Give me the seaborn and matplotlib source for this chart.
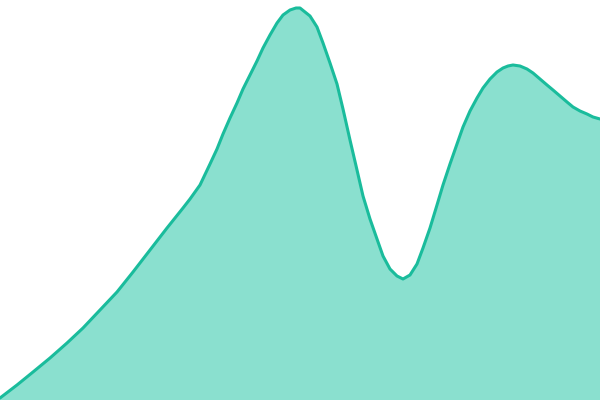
import matplotlib
matplotlib.use("Agg")
import matplotlib.pyplot as plt
import seaborn as sns
import pandas as pd

# x positions and heights
x_vals = [0, 17, 33, 50, 67, 83, 100, 117, 133, 150, 167, 183, 190, 200, 210, 217, 223,
          230, 237, 243, 250, 257, 263, 270, 277, 283, 290, 296, 300, 310, 317, 323, 330,
          337, 343, 350, 357, 363, 370, 377, 383, 390, 397, 403, 410, 417, 423, 430, 437,
          443, 450, 457, 463, 470, 477, 483, 490, 497, 503, 508, 513, 520, 527, 533, 540,
          547, 553, 560, 567, 573, 580, 587, 593, 600]
y_vals = [2, 15, 28, 42, 57, 72, 90, 108, 128, 150, 172, 192, 201, 215, 236, 251, 266,
          282, 297, 311, 325, 339, 352, 365, 377, 385, 390, 392, 392, 384, 373, 357, 337,
          316, 291, 260, 230, 204, 181, 161, 144, 131, 124, 121, 125, 136, 152, 172, 195,
          215, 236, 256, 273, 289, 302, 312, 321, 328, 332, 334, 335, 334, 331, 327, 321,
          315, 310, 304, 298, 293, 289, 286, 283, 281]

df = pd.DataFrame({"x": x_vals, "y": y_vals})

sns.set_theme(style="white")
fig = plt.figure(figsize=(6, 4), dpi=100)
ax = fig.add_axes([0, 0, 1, 1])
ax.fill_between(df["x"], df["y"], 0, color="#8AE0CF", linewidth=0)
sns.lineplot(data=df, x="x", y="y", ax=ax, color="#1ABC9C", linewidth=2.2)
ax.set_xlim(0, 600)
ax.set_ylim(0, 400)
ax.axis("off")
fig.savefig("out.png", dpi=100)
